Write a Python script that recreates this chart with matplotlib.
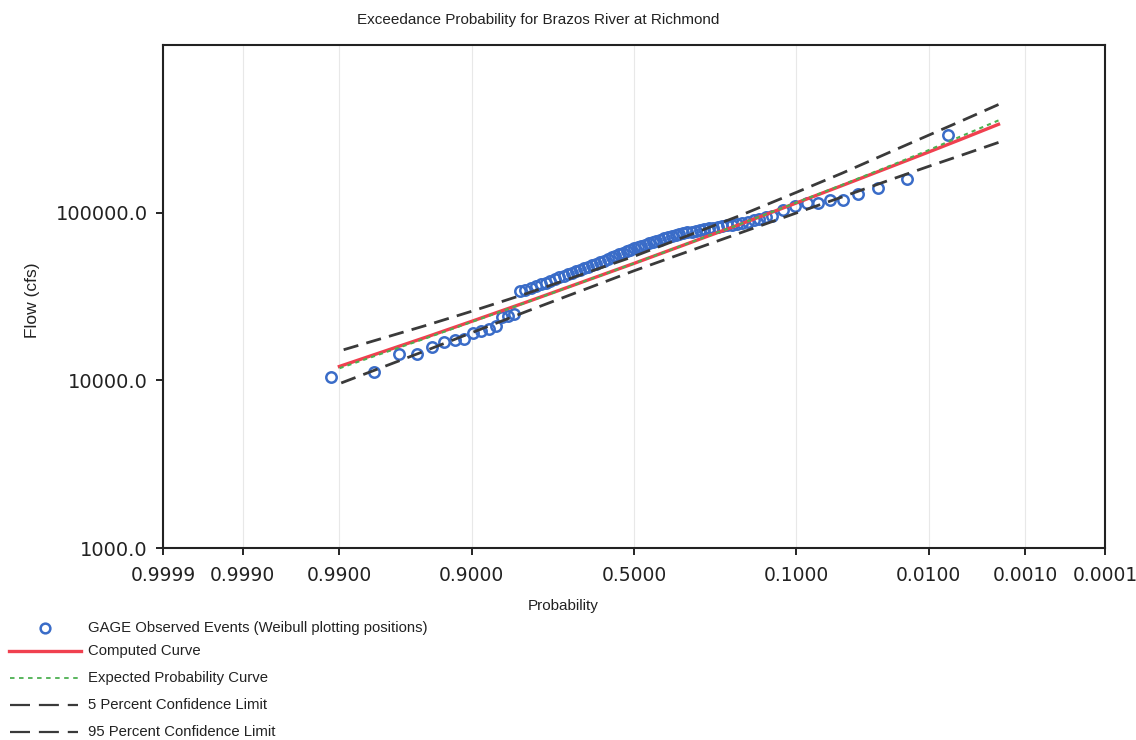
import numpy as np
import matplotlib
matplotlib.use("Agg")
import matplotlib.pyplot as plt
from matplotlib import font_manager
from matplotlib.lines import Line2D
from matplotlib.ticker import FixedLocator, FixedFormatter, NullLocator
from statistics import NormalDist

# ---------------- data ----------------
obs_prob = [0.00662, 0.01547, 0.0272, 0.0388, 0.0497, 0.0612, 0.0735, 0.0863, 0.1022, 0.120,
            0.1375, 0.1492, 0.1609, 0.1726, 0.1843, 0.1960, 0.2077, 0.2194, 0.2311, 0.2428,
            0.2545, 0.2662, 0.2779, 0.2896, 0.3013, 0.3130, 0.3247, 0.3364, 0.3481, 0.3598,
            0.3715, 0.3832, 0.3949, 0.4066, 0.4183, 0.4300, 0.4417, 0.4534, 0.4651, 0.4768,
            0.4885, 0.5002, 0.5119, 0.5236, 0.5353, 0.5470, 0.5587, 0.5704, 0.5821, 0.5938,
            0.6055, 0.6172, 0.6289, 0.6406, 0.6523, 0.6640, 0.6757, 0.6874, 0.6991, 0.7108,
            0.7225, 0.7342, 0.7459, 0.7576, 0.7693, 0.7810, 0.7927, 0.8044, 0.8161,
            0.8278, 0.8395, 0.8512, 0.8629, 0.8746, 0.8863, 0.8980, 0.9097, 0.9214, 0.9331,
            0.9448, 0.9565, 0.9682, 0.9799, 0.9916]
obs_flow = [290000, 157800, 140000, 128600, 119800, 119600, 113900, 113700, 109400, 103500,
            96030, 94040, 92050, 90160, 88290, 86460, 85540, 84700, 83890, 83080,
            82270, 81470, 80690, 79790, 78890, 78010, 77130, 76180, 75160, 74170,
            73170, 72190, 71220, 70260, 69120, 67930, 66750, 65610, 64470, 63360,
            62270, 61200, 60140, 58960, 57700, 56470, 55260, 54080, 52920, 51800,
            50690, 49600, 48560, 47580, 46600, 45650, 44720, 43810, 42910, 42040,
            41070, 40100, 39140, 38210, 37300, 36410, 35550, 34700, 33900,
            24970, 24270, 23990, 21110, 20160, 19740, 19030, 17750, 17310, 16980,
            15740, 14450, 14430, 11190, 10400]

curve_prob = [0.002, 0.005, 0.01, 0.02, 0.05, 0.1, 0.2, 0.5, 0.8, 0.9, 0.95, 0.99]
computed_flow = [336500, 272800, 230000, 191300, 145300, 114200, 85500, 49820, 29420, 22490, 18060, 12100]
expected_flow = [355000, 284000, 236000, 194500, 146600, 114800, 85700, 49820, 29300, 22300, 17800, 11800]
conf05_flow = [441600, 349900, 289700, 235500, 172200, 132100, 96400, 54880, 33040, 25820, 21230, 14960]
conf95_flow = [262400, 218800, 188800, 160000, 124200, 99540, 75860, 45020, 25880, 19230, 15030, 9550]

x_tick_probs = [0.9999, 0.999, 0.99, 0.9, 0.5, 0.1, 0.01, 0.001, 0.0001]
x_tick_labels = ["0.9999", "0.9990", "0.9900", "0.9000", "0.5000", "0.1000", "0.0100", "0.0010", "0.0001"]
y_ticks = [1000, 10000, 100000]
y_tick_labels = ["1000.0", "10000.0", "100000.0"]

title = "Exceedance Probability for Brazos River at Richmond"
legend_labels = ["GAGE Observed Events (Weibull plotting positions)", "Computed Curve",
                 "Expected Probability Curve", "5 Percent Confidence Limit",
                 "95 Percent Confidence Limit"]

# ---------------- fonts ----------------
names = {f.name for f in font_manager.fontManager.ttflist}
narrow = "Liberation Sans Narrow" if "Liberation Sans Narrow" in names else "Liberation Sans"
plain = "Liberation Sans"

# ---------------- normal probability scale ----------------
ND = NormalDist()
_ppf = np.vectorize(lambda q: ND.inv_cdf(q), otypes=[float])
_cdf = np.vectorize(lambda z: ND.cdf(z), otypes=[float])


def fwd(p):
    p = np.clip(np.asarray(p, dtype=float), 1e-12, 1 - 1e-12)
    if p.size == 0:
        return p
    return _ppf(1.0 - p)


def inv(z):
    z = np.asarray(z, dtype=float)
    if z.size == 0:
        return z
    return 1.0 - _cdf(z)


W, H = 1136, 740
fig = plt.figure(figsize=(W / 100, H / 100), dpi=100)
ax = fig.add_axes([163 / W, 1 - 548 / H, (1105 - 163) / W, (548 - 45) / H])
ax.set_xscale("function", functions=(fwd, inv))
ax.set_yscale("log")

blue = "#3a6cc8"
red = "#f0404f"
green = "#4cb050"
dark = "#3a3a3a"

ax.plot(obs_prob, obs_flow, linestyle="none", marker="o", markersize=7.5,
        markerfacecolor="none", markeredgecolor=blue, markeredgewidth=1.8, zorder=3)
ax.plot(curve_prob, computed_flow, color=red, lw=2.4, zorder=4)
ax.plot(curve_prob, expected_flow, color=green, lw=1.5, linestyle=(0, (2, 2)), zorder=5)
ax.plot(curve_prob, conf05_flow, color=dark, lw=2.0, linestyle=(0, (5.5, 3)), zorder=5)
ax.plot(curve_prob, conf95_flow, color=dark, lw=2.0, linestyle=(0, (5.5, 3)), zorder=5)

ax.set_xlim(0.0001, 0.9999)
ax.set_ylim(1000, 1000000)

ax.xaxis.set_major_locator(FixedLocator(x_tick_probs))
ax.xaxis.set_major_formatter(FixedFormatter(x_tick_labels))
ax.xaxis.set_minor_locator(NullLocator())
ax.yaxis.set_major_locator(FixedLocator(y_ticks))
ax.yaxis.set_major_formatter(FixedFormatter(y_tick_labels))
ax.yaxis.set_minor_locator(NullLocator())

ax.grid(axis="x", color="#e8e8e8", lw=0.8, zorder=0)
for s in ax.spines.values():
    s.set_linewidth(1.5)
    s.set_color("#222222")

ax.tick_params(axis="x", direction="out", length=5, width=1.2, pad=8,
               labelsize=13.5)
ax.tick_params(axis="y", direction="out", length=5, width=1.2, pad=6,
               labelsize=14)
for lab in ax.get_xticklabels() + ax.get_yticklabels():
    lab.set_family("DejaVu Sans")
    lab.set_color("#222222")

fig.text(538 / W, 1 - 20 / H, title, ha="center", va="center",
         family=narrow, fontsize=11, color="#222222")
fig.text(563 / W, 1 - 606 / H, "Probability", ha="center", va="center",
         family=narrow, fontsize=11, color="#222222")
fig.text(32 / W, 1 - 300 / H, "Flow (cfs)", ha="center", va="center",
         rotation=90, family=plain, fontsize=12.5, color="#222222")

# ---------------- legend (drawn at figure level) ----------------
rows = [628, 651, 678, 705, 732]
y0 = 1 - rows[0] / H
fig.add_artist(Line2D([45 / W], [y0], marker="o", markersize=7, markerfacecolor="none",
                      markeredgecolor=blue, markeredgewidth=1.8, transform=fig.transFigure))
y1 = 1 - rows[1] / H
fig.add_artist(Line2D([9 / W, 81 / W], [y1, y1], color=red, lw=2.4, transform=fig.transFigure))
y2 = 1 - rows[2] / H
fig.add_artist(Line2D([10 / W, 78 / W], [y2, y2], color=green, lw=1.3,
                      linestyle=(0, (2.5, 2.5)), transform=fig.transFigure))
for r in rows[3:]:
    yy = 1 - r / H
    fig.add_artist(Line2D([10 / W, 78 / W], [yy, yy], color=dark, lw=1.6,
                          linestyle=(0, (9, 4)), transform=fig.transFigure))
for r, lab in zip(rows, legend_labels):
    fig.text(88 / W, 1 - r / H, lab, ha="left", va="center", family=plain,
             fontsize=10.7, color="#222222")

fig.savefig("out.png", dpi=100)
